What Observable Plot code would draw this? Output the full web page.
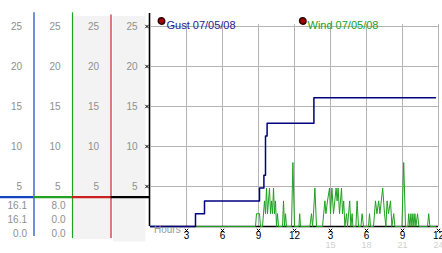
<!DOCTYPE html>
<html><head><meta charset="utf-8">
<script src="https://cdn.jsdelivr.net/npm/d3@7"></script>
<script src="https://cdn.jsdelivr.net/npm/@observablehq/plot@0.6"></script>
<style>
body{margin:0;background:#fff;}
#chart{display:flex;width:442px;height:253px;overflow:hidden;}
#chart svg{overflow:visible;flex:none;}
#layer{position:absolute;left:0;top:0;width:442px;height:253px;background:rgba(255,255,255,0.004);pointer-events:none;}
</style></head><body><div id="chart"></div><div id="layer"></div>
<script>
// ---- data ----
const yTicks = [5, 10, 15, 20, 25];
const columns = ["gust", "wind", "dir", "scale"];
const columnColors = ["#1246c0", "#22a022", "#cc2020", "#000000"];
const gustReadings = ["16.1", "16.1", "0.0"];
const windReadings = ["8.0", "0.0", "0.0"];
const hourTicks = [180, 360, 540, 720, 900, 1080, 1260, 1440]; // minutes
const hourLabels = ["3", "6", "9", "12", "3", "6", "9", "12"];
const hour24Labels = ["", "", "", "", "15", "18", "21", "24"];
const legendLabels = ["Gust 07/05/08", "Wind 07/05/08"];

const gustMinutes = [0, 225, 270, 545, 567, 575, 583, 817, 1425];
const gustValues  = [0, 1.6, 3.2, 4.8, 6.4, 11.3, 12.9, 16.1, 16.1];

const windMinutes = [0, 525, 530, 545, 550, 560, 570, 575, 580, 585, 590, 595, 600, 605, 610, 615, 620, 625, 630, 635, 640,
  660, 665, 670, 675, 680, 705, 712, 720, 742, 746, 750, 797, 805, 810, 815, 822, 830,
  860, 866, 872, 877, 885, 895, 900, 907, 915, 928, 933, 938, 945, 950, 955, 960, 966, 972, 980, 985, 996, 1002, 1008, 1012,
  1027, 1033, 1040, 1052, 1058, 1065, 1090, 1095, 1100,
  1115, 1125, 1132, 1141, 1147, 1161, 1170, 1177, 1183, 1190, 1200, 1207, 1216, 1222,
  1257, 1266, 1275, 1287, 1291, 1297, 1302, 1307, 1312, 1317, 1322, 1327, 1335, 1342, 1385, 1391, 1397, 1425];
const windValues = [0, 0, 1.6, 1.6, 0, 0, 3.2, 1.6, 4.8, 1.6, 3.2, 4.8, 1.6, 3.2, 1.6, 4.8, 1.6, 3.2, 0, 1.6, 0,
  0, 3.2, 0, 1.6, 0, 0, 8.0, 0, 0, 1.6, 0, 0, 1.6, 0, 1.6, 4.8, 0,
  0, 1.6, 3.2, 1.6, 3.2, 4.8, 1.6, 4.8, 1.6, 4.8, 3.2, 4.8, 1.6, 3.2, 4.8, 1.6, 3.2, 0, 1.6, 0, 3.2, 0, 1.6, 0,
  0, 3.2, 0, 0, 1.6, 0, 0, 1.6, 0,
  0, 3.2, 1.6, 3.2, 1.6, 4.8, 1.6, 0, 3.2, 1.6, 3.2, 0, 1.6, 0,
  0, 8.0, 0, 0, 1.6, 0, 1.6, 0, 1.6, 0, 1.6, 0, 1.6, 0, 0, 1.6, 0, 0];

// ---- tables ----
const gust = gustMinutes.map((m, i) => ({m, v: gustValues[i]}));
const wind = windMinutes.map((m, i) => ({m, v: windValues[i]}));
const colIdx = columns.map((c, i) => i);
const colTicks = colIdx.flatMap(i => yTicks.map(v => ({i, v})));
const readings = [gustReadings, windReadings];

const font = "'Liberation Sans', Arial, sans-serif";
const common = {height: 253, marginTop: 26, marginBottom: 27, marginLeft: 0,
  y: {domain: [0, 25], axis: null}};

const left = Plot.plot({
  ...common, width: 150, marginRight: 0,
  x: {domain: [0, 4], range: [-5, 149], axis: null},
  color: {type: "identity"},
  style: {fontFamily: font, fontSize: "10px", overflow: "visible", background: "transparent"},
  marks: [
    Plot.rect([2], {x1: d => d, x2: d => d + 1, fill: "#f3f3f3", insetTop: -10, insetBottom: -13}),
    Plot.rect([3], {x1: d => d, x2: d => d + 1, fill: "#f3f3f3", insetLeft: 2.5, insetRight: 3.5, insetTop: -10, insetBottom: -15.5}),
    Plot.ruleX([1], {stroke: columnColors[0], strokeWidth: 1.2, insetTop: -13.7, insetBottom: -10}),
    Plot.ruleX([2], {stroke: columnColors[1], strokeWidth: 1.2, insetTop: -13.7, insetBottom: -12}),
    Plot.ruleX([3], {stroke: columnColors[2], strokeWidth: 1.2, insetTop: -11.5, insetBottom: -12}),
    Plot.ruleX([4], {stroke: columnColors[3], strokeWidth: 1.6, insetTop: -13}),
    Plot.ruleY(colIdx, {y: () => 0, x1: d => d, x2: d => d + 1, stroke: d => columnColors[d], strokeWidth: 2.2, dy: -29.3}),
    Plot.text(colTicks, {x: d => d.i + 1, y: "v", text: d => String(d.v), textAnchor: "end", dx: -12, fill: "#8f8f8f"}),
    Plot.dot(yTicks, {x: () => 4, y: d => d, symbol: "times", r: 1.7, stroke: "#000", strokeWidth: 1, dx: -2.5}),
    Plot.text([0, 1], {x: d => d + 1, y: () => 0, text: d => readings[d].join("\n"), textAnchor: "end",
      lineAnchor: "middle", lineHeight: 1.4, dx: -7, dy: -7.7, fill: "#8f8f8f"})
  ]
});

const right = Plot.plot({
  ...common, width: 292, marginRight: 4,
  x: {domain: [0, 1440], axis: null},
  style: {fontFamily: font, fontSize: "10px", overflow: "visible", background: "transparent"},
  marks: [
    Plot.rect(yTicks, {y1: d => d, y2: d => d, fill: "#b4b4b4", insetBottom: -1}),
    Plot.rect(hourTicks, {x1: d => d, x2: d => d, fill: "#b4b4b4", insetRight: -1, insetTop: -2}),
    Plot.ruleY(yTicks, {y: d => d, stroke: "#b4b4b4", strokeOpacity: 1, strokeWidth: 1}),
    Plot.ruleX(hourTicks, {x: d => d, stroke: "#b4b4b4", strokeOpacity: 1, strokeWidth: 1, insetTop: -2}),
    Plot.ruleY([0], {stroke: "#000", strokeWidth: 1.5}),
    Plot.line(wind, {x: "m", y: "v", stroke: "#1fa01f", strokeWidth: 1}),
    Plot.line(gust, {x: "m", y: "v", stroke: "#000080", strokeWidth: 1.5, curve: "step-after"}),
    Plot.dot(hourTicks, {x: d => d, frameAnchor: "bottom", dy: 4, symbol: "times", r: 1.7, stroke: "#000", strokeWidth: 1}),
    Plot.text(hourTicks, {x: d => d, text: (d, i) => hourLabels[i], frameAnchor: "bottom", dy: 12, fill: "#000", fontSize: 10}),
    Plot.text(hourTicks.filter((d, i) => hour24Labels[i]), {x: d => d, text: d => hour24Labels[hourTicks.indexOf(d)], frameAnchor: "bottom", dy: 21.5, fill: "#cfcfcf", fontSize: 9}),
    Plot.text(["Hours"], {frameAnchor: "bottom-left", dx: 3.5, dy: 6, textAnchor: "start", fill: "#999"}),
    Plot.dot([0], {frameAnchor: "top-left", dx: 11, dy: -5.5, r: 3.2, fill: "#a00000", stroke: "#300"}),
    Plot.text([legendLabels[0]], {frameAnchor: "top-left", dx: 16, dy: -5.5, textAnchor: "start", fill: "#1c1c96", fontSize: 11}),
    Plot.dot([0], {frameAnchor: "top-left", dx: 152.3, dy: -5.5, r: 3.2, fill: "#a00000", stroke: "#300"}),
    Plot.text([legendLabels[1]], {frameAnchor: "top-left", dx: 157, dy: -5.5, textAnchor: "start", fill: "#22a022", fontSize: 11})
  ]
});

document.getElementById("chart").append(left, right);
document.body.getBoundingClientRect();
</script></body></html>
